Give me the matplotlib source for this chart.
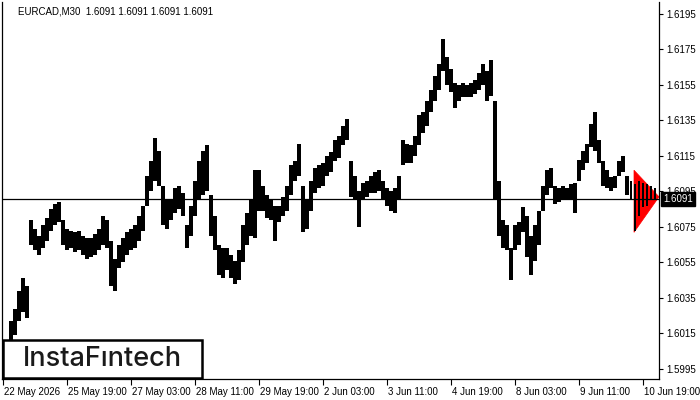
import matplotlib
matplotlib.use("Agg")
import matplotlib.pyplot as plt
from matplotlib.patches import Rectangle, Polygon
import matplotlib.transforms as mtransforms
import numpy as np

# ---- data (2-hour columns) ----
highs = [
    1.6022, 1.6029, 1.6039, 1.6046, 1.6042,
    1.6079, 1.6074, 1.6070, 1.6076, 1.6080, 1.6085, 1.6088, 1.6089, 1.6079, 1.6074,
    1.6073, 1.6072, 1.6073, 1.6070, 1.6069, 1.6069, 1.6071, 1.6074, 1.6081, 1.6079,
    1.6067, 1.6057, 1.6065, 1.6069, 1.6072, 1.6074, 1.6076, 1.6081, 1.6087, 1.6104,
    1.6112, 1.6125, 1.6118, 1.6098, 1.6090, 1.6091, 1.6097, 1.6098, 1.6094, 1.6076,
    1.6087, 1.6101, 1.6112, 1.6118, 1.6121, 1.6093, 1.6081, 1.6065, 1.6063, 1.6063,
    1.6059, 1.6056, 1.6062, 1.6076, 1.6083, 1.6090, 1.6107, 1.6107, 1.6098, 1.6093,
    1.6091, 1.6087, 1.6087, 1.6092, 1.6098, 1.6110, 1.6112, 1.6122, 1.6098, 1.6090,
    1.6101, 1.6108, 1.6110, 1.6111, 1.6115, 1.6117, 1.6124, 1.6126, 1.6132, 1.6136,
    1.6112, 1.6104, 1.6095, 1.6100, 1.6101, 1.6104, 1.6106, 1.6107, 1.6101, 1.6097,
    1.6095, 1.6097, 1.6104, 1.6124, 1.6122, 1.6121, 1.6126, 1.6138, 1.6140, 1.6146,
    1.6152, 1.6160, 1.6167, 1.6181, 1.6171, 1.6164, 1.6156, 1.6155, 1.6156, 1.6155,
    1.6156, 1.6158, 1.6162, 1.6167, 1.6163, 1.6169, 1.6146, 1.6101, 1.6079, 1.6076,
    1.6063, 1.6076, 1.6078, 1.6086, 1.6081, 1.6070, 1.6076, 1.6084, 1.6098, 1.6107,
    1.6108, 1.6098, 1.6097, 1.6098, 1.6097, 1.6099, 1.6100, 1.6113, 1.6118, 1.6122,
    1.6133, 1.6140, 1.6124, 1.6112, 1.6107, 1.6103, 1.6104, 1.6112, 1.6115, 1.6104,
    1.6101, 1.6099, 1.6101, 1.6100, 1.6099, 1.6098, 1.6097,
]
lows = [
    1.6007, 1.6014, 1.6022, 1.6027, 1.6024,
    1.6065, 1.6062, 1.6059, 1.6063, 1.6067, 1.6073, 1.6076, 1.6078, 1.6065, 1.6062,
    1.6063, 1.6061, 1.6062, 1.6059, 1.6057, 1.6058, 1.6059, 1.6062, 1.6065, 1.6063,
    1.6042, 1.6039, 1.6052, 1.6055, 1.6059, 1.6062, 1.6063, 1.6067, 1.6073, 1.6087,
    1.6095, 1.6101, 1.6098, 1.6076, 1.6074, 1.6079, 1.6083, 1.6085, 1.6081, 1.6063,
    1.6070, 1.6081, 1.6090, 1.6093, 1.6095, 1.6070, 1.6062, 1.6048, 1.6046, 1.6051,
    1.6046, 1.6043, 1.6045, 1.6055, 1.6065, 1.6070, 1.6069, 1.6084, 1.6084, 1.6080,
    1.6079, 1.6067, 1.6078, 1.6081, 1.6084, 1.6093, 1.6101, 1.6104, 1.6072, 1.6074,
    1.6084, 1.6094, 1.6097, 1.6098, 1.6104, 1.6106, 1.6112, 1.6114, 1.6121, 1.6124,
    1.6092, 1.6091, 1.6075, 1.6090, 1.6092, 1.6094, 1.6094, 1.6095, 1.6090, 1.6087,
    1.6084, 1.6083, 1.6090, 1.6110, 1.6111, 1.6111, 1.6115, 1.6121, 1.6128, 1.6132,
    1.6140, 1.6146, 1.6152, 1.6163, 1.6155, 1.6151, 1.6142, 1.6146, 1.6148, 1.6148,
    1.6148, 1.6150, 1.6152, 1.6155, 1.6146, 1.6149, 1.6090, 1.6070, 1.6063, 1.6062,
    1.6045, 1.6062, 1.6065, 1.6072, 1.6058, 1.6048, 1.6056, 1.6065, 1.6084, 1.6093,
    1.6097, 1.6088, 1.6089, 1.6090, 1.6090, 1.6091, 1.6083, 1.6101, 1.6107, 1.6111,
    1.6120, 1.6118, 1.6111, 1.6098, 1.6097, 1.6095, 1.6097, 1.6104, 1.6106, 1.6093,
    1.6091, 1.6073, 1.6081, 1.6086, 1.6087, 1.6090, 1.6090,
]
last_price = 1.6091
symbol_title = "EURCAD,M30  1.6091 1.6091 1.6091 1.6091"
x_tick_labels = ["22 May 2026", "25 May 19:00", "27 May 03:00", "28 May 11:00",
                 "29 May 19:00", "2 Jun 03:00", "3 Jun 11:00", "4 Jun 19:00",
                 "8 Jun 03:00", "9 Jun 11:00", "10 Jun 19:00"]
y_ticks = [1.5995, 1.6015, 1.6035, 1.6055, 1.6075, 1.6095, 1.6115,
           1.6135, 1.6155, 1.6175, 1.6195]
# pennant pattern marker (bar index, price)
pattern_t = [631, 631, 656]
pattern_p = [1.6107, 1.6072, 1.6092]

n = min(len(highs), len(lows))
highs = np.array(highs[:n])
lows = np.array(lows[:n])
t = 8 + 4 * np.arange(n)          # M30 bar index of each 2-hour column

W, H = 700, 400
fig = plt.figure(figsize=(7, 4), dpi=100)
fig.patch.set_facecolor("white")
ax_l, ax_r, ax_b, ax_t = 2, 659, 379, 2
ax = fig.add_axes([ax_l / W, (H - ax_b) / H, (ax_r - ax_l) / W, (ax_b - ax_t) / H])

px_per_pip = 1.775
top_price = 1.6195 + (14 - ax_t) / px_per_pip * 0.0001
bot_price = 1.6195 - (ax_b - 14) / px_per_pip * 0.0001
ax.set_ylim(bot_price, top_price)
ax.set_xlim(-1, 656)

font = "Liberation Sans"

# pattern triangle
ax.add_patch(Polygon(list(zip(pattern_t, pattern_p)), closed=True,
                     facecolor="#ff0000", edgecolor="#ff0000", lw=0.5, zorder=2))

# price bars (narrower inside the pattern so the marker shows through, as in MT4)
widths = np.where(t >= 628, 2.0, 4.2)
ax.bar(t, highs - lows, bottom=lows, width=widths, color="black", linewidth=0, zorder=3)

ax.axhline(last_price, color="black", lw=0.9, zorder=2.5)

ax.spines["top"].set_visible(False)
for s in ["left", "right", "bottom"]:
    ax.spines[s].set_linewidth(0.9)
    ax.spines[s].set_color("black")

ax.yaxis.tick_right()
ax.set_yticks(y_ticks)
ax.set_yticklabels([f"{v:.4f}" for v in y_ticks], fontfamily=font, fontsize=7)
ax.tick_params(axis="y", direction="out", length=3, width=0.8, pad=2, colors="black")

xt = [64 * i for i in range(len(x_tick_labels))]
ax.set_xticks(xt)
ax.set_xticklabels(x_tick_labels, fontfamily=font, fontsize=7, ha="left")
ax.tick_params(axis="x", direction="out", length=4, width=0.8, pad=2, colors="black")
offset = mtransforms.ScaledTranslation(1 / 100, 0, fig.dpi_scale_trans)
for lab in ax.get_xticklabels():
    lab.set_transform(lab.get_transform() + offset)

# current price label box
ax.text(1.0 + 4 / 657, last_price, "1.6091", transform=ax.get_yaxis_transform(),
        ha="left", va="center", color="white", fontfamily=font, fontsize=7,
        bbox=dict(boxstyle="square,pad=0.2", fc="black", ec="black"), zorder=10,
        clip_on=False)

# title
fig.text(18 / W, 1 - 12 / H, symbol_title, ha="left", va="center",
         fontfamily=font, fontsize=7, color="black")

# logo box
rect = Rectangle((3 / W, (H - 378) / H), 199 / W, 38 / H, transform=fig.transFigure,
                 facecolor="white", edgecolor="black", lw=1.8, zorder=5)
fig.add_artist(rect)
fig.text(102 / W, (H - 359) / H, "InstaF\u0131ntech", ha="center", va="center",
         fontfamily="Inter", fontsize=19.5, fontweight="medium", color="#1a1a1a", zorder=6)

fig.savefig("out.png", dpi=100, facecolor="white")
